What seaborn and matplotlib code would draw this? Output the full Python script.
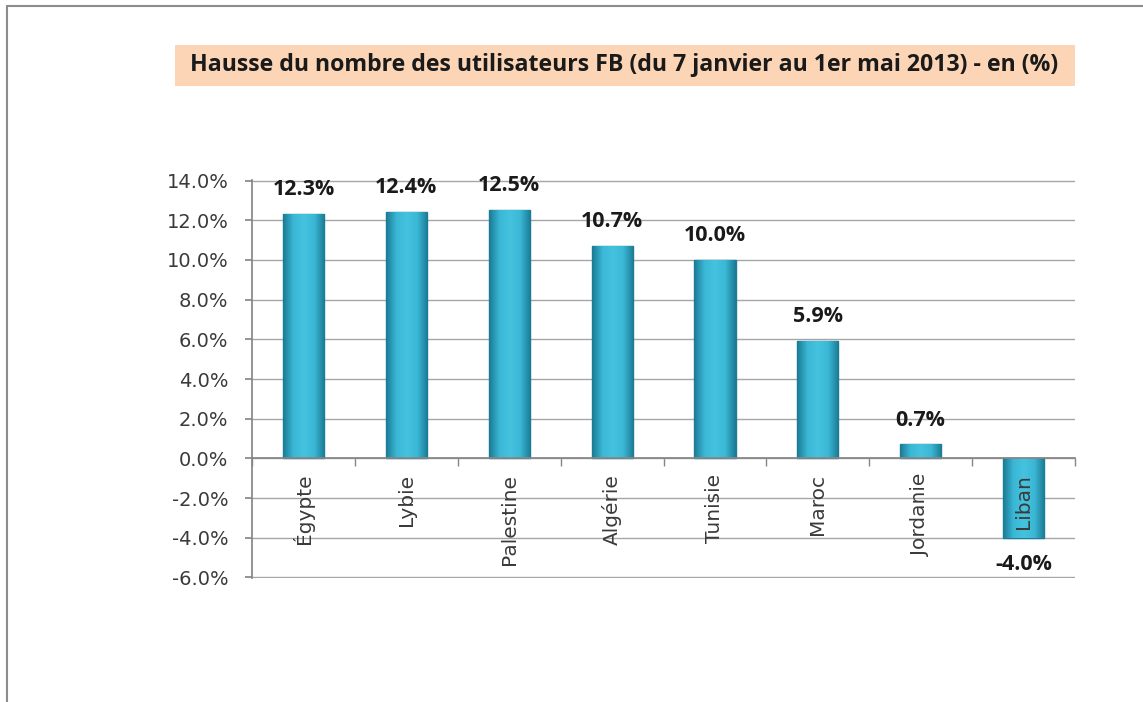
import matplotlib
matplotlib.use('Agg')
import numpy as np
import matplotlib.pyplot as plt
import seaborn as sns
import pandas as pd
from matplotlib.patches import Rectangle
from matplotlib.lines import Line2D
from matplotlib.colors import LinearSegmentedColormap
from matplotlib.ticker import FuncFormatter, FixedLocator

pays = ['Égypte', 'Lybie', 'Palestine', 'Algérie', 'Tunisie', 'Maroc', 'Jordanie', 'Liban']
hausse = [12.3, 12.4, 12.5, 10.7, 10.0, 5.9, 0.7, -4.0]
titre = 'Hausse du nombre des utilisateurs FB (du 7 janvier au 1er mai 2013) - en (%)'

sns.set_theme(style='white')
plt.rcParams['font.family'] = ['DejaVu Sans']

df = pd.DataFrame({'pays': pays, 'hausse': hausse})

fig = plt.figure(figsize=(11.43, 7.02), dpi=100)
ax = fig.add_axes([0.2205, 0.1766, 0.72, 0.567])

sns.barplot(data=df, x='pays', y='hausse', color='#33afcc', width=0.4,
            edgecolor='#1e7c96', linewidth=1.0, saturation=1, ax=ax)

# gradient shading on the bars (dark edges, lighter middle)
cmap = LinearSegmentedColormap.from_list('bar', ['#1b7b95', '#3ab8d6', '#45c2de', '#3ab8d6', '#1b7b95'])
grad = np.linspace(0, 1, 64).reshape(1, -1)
for p in ax.patches:
    x0, y0 = p.get_x(), p.get_y()
    w, h = p.get_width(), p.get_height()
    im = ax.imshow(grad, cmap=cmap, aspect='auto', zorder=p.get_zorder() + 0.1,
                   extent=[x0, x0 + w, min(y0, y0 + h), max(y0, y0 + h)])
    im.set_clip_path(p)
ax.set_ylim(-6.03, 14.03)
ax.set_xlim(-0.5, len(pays) - 0.5)

ax.set_yticks(range(-6, 15, 2))
ax.yaxis.set_major_formatter(FuncFormatter(lambda v, p: f'{v:.1f}%'))
ax.yaxis.grid(True, color='#a6a6a6', linewidth=1)
ax.set_axisbelow(True)
ax.set_xlabel('')
ax.set_ylabel('')

for s in ['top', 'right']:
    ax.spines[s].set_visible(False)
ax.spines['left'].set_color('#868686')
ax.spines['bottom'].set_color('#868686')
ax.spines['bottom'].set_position(('data', 0))
ax.spines['bottom'].set_zorder(3)

ax.tick_params(axis='y', left=True, length=5, color='#868686', labelsize=14,
               labelcolor='#3a3a3a', pad=12)
ax.set_xticks(range(len(pays)))
ax.set_xticklabels([])
ax.tick_params(axis='x', which='major', length=0)
ax.xaxis.set_minor_locator(FixedLocator([i - 0.5 for i in range(len(pays) + 1)]))
ax.tick_params(axis='x', which='minor', bottom=True, length=6, color='#868686')

# category names drawn on top of the bars, just under the zero line
for i, name in enumerate(pays):
    ax.annotate(name, (i, 0), xytext=(0, -11), textcoords='offset points',
                rotation=90, ha='center', va='top', fontsize=14.5,
                color='#3a3a3a', zorder=5)

for i, v in enumerate(hausse):
    off = 10 if v >= 0 else -12
    ax.annotate(f'{v:.1f}%', (i, v), xytext=(0, off), textcoords='offset points',
                ha='center', va='bottom' if v >= 0 else 'top',
                fontsize=15.5, fontweight='bold', color='#1a1a1a',
                family=['Open Sans', 'DejaVu Sans'])

# title box
fig.patches.append(Rectangle((175 / 1143, 1 - 86 / 702), 900 / 1143, 41 / 702,
                             transform=fig.transFigure, facecolor='#fbd5b5',
                             edgecolor='none', zorder=0))
fig.text(624 / 1143, 1 - 65 / 702, titre, ha='center', va='center',
         fontsize=16.7, fontweight='bold', color='#1a1a1a',
         family=['Open Sans', 'DejaVu Sans'])

# frame
fig.lines.append(Line2D([7 / 1143, 7 / 1143], [0, 1 - 6 / 702], transform=fig.transFigure,
                        color='#8c8c8c', linewidth=1.5))
fig.lines.append(Line2D([7 / 1143, 1], [1 - 6 / 702, 1 - 6 / 702], transform=fig.transFigure,
                        color='#8c8c8c', linewidth=1.5))

fig.savefig('out.png', dpi=100)
